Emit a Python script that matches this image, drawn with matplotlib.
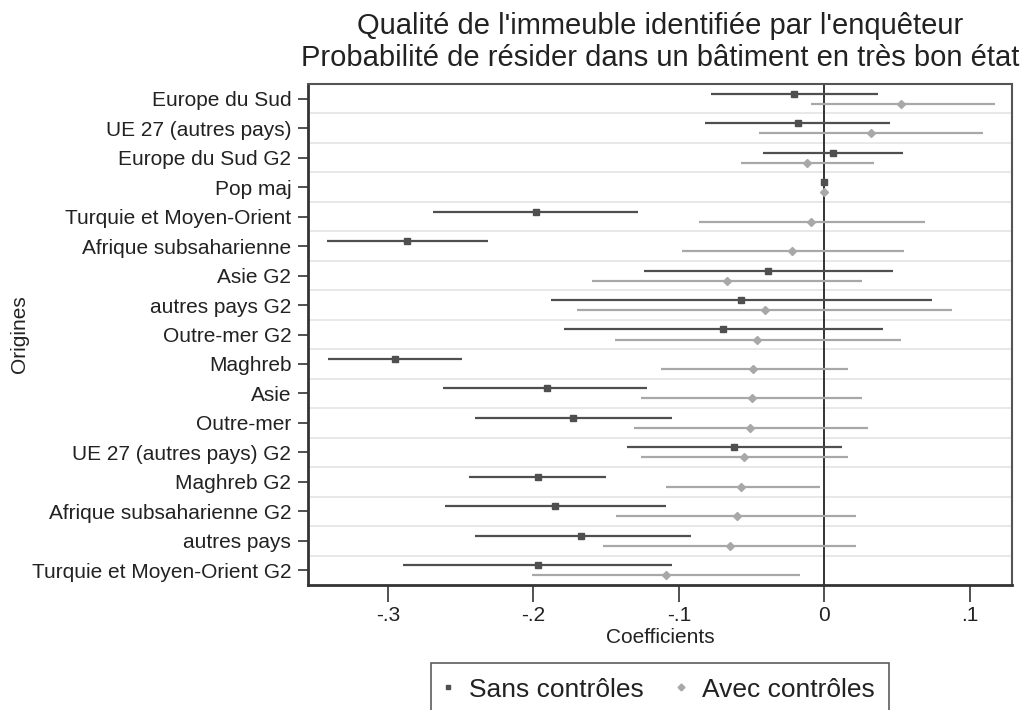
import matplotlib
matplotlib.use('Agg')
import matplotlib.pyplot as plt
from matplotlib.lines import Line2D

plt.rcParams['font.family'] = ['Liberation Sans', 'DejaVu Sans']

# categories, top to bottom
categories = [
    "Europe du Sud", "UE 27 (autres pays)", "Europe du Sud G2", "Pop maj",
    "Turquie et Moyen-Orient", "Afrique subsaharienne", "Asie G2",
    "autres pays G2", "Outre-mer G2", "Maghreb", "Asie", "Outre-mer",
    "UE 27 (autres pays) G2", "Maghreb G2", "Afrique subsaharienne G2",
    "autres pays", "Turquie et Moyen-Orient G2",
]

# model without controls: point estimate, lower and upper bound
sans_coef = [-0.021, -0.018, 0.006, 0.0, -0.198, -0.287, -0.039, -0.057, -0.070,
             -0.295, -0.191, -0.173, -0.062, -0.197, -0.185, -0.167, -0.197]
sans_lo = [-0.078, -0.082, -0.042, 0.0, -0.269, -0.342, -0.124, -0.188, -0.179,
           -0.341, -0.262, -0.240, -0.136, -0.244, -0.261, -0.240, -0.290]
sans_hi = [0.037, 0.045, 0.054, 0.0, -0.128, -0.231, 0.047, 0.074, 0.040,
           -0.249, -0.122, -0.105, 0.012, -0.150, -0.109, -0.092, -0.105]

# model with controls
avec_coef = [0.053, 0.032, -0.012, 0.0, -0.009, -0.022, -0.067, -0.041, -0.046,
             -0.049, -0.050, -0.051, -0.055, -0.057, -0.060, -0.065, -0.109]
avec_lo = [-0.009, -0.045, -0.057, 0.0, -0.086, -0.098, -0.160, -0.170, -0.144,
           -0.112, -0.126, -0.131, -0.126, -0.109, -0.143, -0.152, -0.201]
avec_hi = [0.117, 0.109, 0.034, 0.0, 0.069, 0.055, 0.026, 0.088, 0.053,
           0.016, 0.026, 0.030, 0.016, -0.003, 0.022, 0.022, -0.017]

x_ticks = [-0.3, -0.2, -0.1, 0, 0.1]
x_ticklabels = ["-.3", "-.2", "-.1", "0", ".1"]

DARK = '#4f4f4f'
LIGHT = '#a8a8a8'
OFFSET = 0.17

fig = plt.figure(figsize=(10.26, 7.1), dpi=100)
ax = fig.add_axes([308 / 1026, 1 - 585 / 710, 704 / 1026, 501 / 710])

rows = list(range(1, len(categories) + 1))

# separator lines between categories
for r in rows[:-1]:
    ax.axhline(r + 0.5, color='#e4e4e4', lw=1.2, zorder=0)

ax.axvline(0, color='#333333', lw=1.4, zorder=1)

y_sans = [r - OFFSET for r in rows]
y_avec = [r + OFFSET for r in rows]

ax.hlines(y_sans, sans_lo, sans_hi, color=DARK, lw=1.6, zorder=2)
ax.plot(sans_coef, y_sans, 's', color=DARK, ms=4, zorder=3)
ax.hlines(y_avec, avec_lo, avec_hi, color=LIGHT, lw=1.6, zorder=2)
ax.plot(avec_coef, y_avec, 'D', color=LIGHT, ms=4.5, zorder=3)

ax.set_xlim(-0.355, 0.129)
ax.set_ylim(len(categories) + 0.5, 0.5)

ax.set_yticks(rows)
ax.set_yticklabels(categories, fontsize=15, color='#222222')
ax.set_xticks(x_ticks)
ax.set_xticklabels(x_ticklabels, fontsize=15, color='#222222')
ax.tick_params(axis='y', length=7, width=1.2, pad=5, color='#333333')
ax.tick_params(axis='x', length=12, width=1.2, pad=3, color='#333333')

for side in ['left', 'bottom']:
    ax.spines[side].set_linewidth(2)
    ax.spines[side].set_color('#333333')
for side in ['top', 'right']:
    ax.spines[side].set_linewidth(1.5)
    ax.spines[side].set_color('#555555')

ax.set_xlabel("Coefficients", fontsize=15, color='#222222', labelpad=2)
ax.set_ylabel("Origines", fontsize=15, color='#222222', labelpad=2)

fig.text(660 / 1026, 1 - 26 / 710, "Qualité de l'immeuble identifiée par l'enquêteur",
         ha='center', va='center', fontsize=21, color='#222222')
fig.text(660 / 1026, 1 - 58 / 710, "Probabilité de résider dans un bâtiment en très bon état",
         ha='center', va='center', fontsize=21, color='#222222')

handles = [
    Line2D([], [], ls='none', marker='s', color=DARK, ms=3),
    Line2D([], [], ls='none', marker='D', color=LIGHT, ms=3.5),
]
leg = fig.legend(handles, ["Sans contrôles", "Avec contrôles"], loc='upper center',
                 bbox_to_anchor=(660 / 1026, 1 - 663 / 710), ncol=2, fontsize=19,
                 frameon=True, fancybox=False, edgecolor='#333333',
                 handlelength=0.2, handletextpad=0.7, columnspacing=1.3,
                 borderpad=0.55, borderaxespad=0)
leg.get_frame().set_linewidth(1.2)
for t in leg.get_texts():
    t.set_color('#222222')

fig.savefig('out.png', dpi=100, facecolor='white')
